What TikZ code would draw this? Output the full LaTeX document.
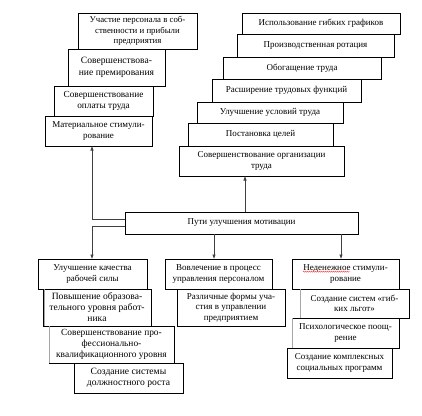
\documentclass[tikz,border=0pt]{standalone}
\usepackage{fontspec}
\setmainfont{Liberation Serif}
\usetikzlibrary{arrows.meta,decorations.pathmorphing}
\begin{document}
\begin{tikzpicture}[x=1pt,y=-1pt,
  box/.style={draw=black, line width=0.6pt, fill=white, inner sep=0pt, outer sep=0pt,
    align=center, font=\fontsize{9}{10.5}\selectfont},
  arr/.style={draw=black!75, line width=0.6pt, -{Latex[length=4.5pt,width=3.5pt]}},
  shade/.style={draw=black!35, line width=1pt},
  spell/.style={draw=red!80, line width=0.4pt, decorate, decoration={snake, amplitude=0.6pt, segment length=2pt}}]
\useasboundingbox (0,0) rectangle (422,415);
% left top column
\node[box, minimum width=119pt, minimum height=36pt, font=\fontsize{8.8}{10.5}\selectfont] (A1) at (137.5,31) {Участие персонала в соб-\\ственности и прибыли\\предприятия};
\node[box, minimum width=97pt, minimum height=37pt, font=\fontsize{9.6}{12}\selectfont] (A2) at (116.5,67.5) {Совершенствова-\\ние премирования};
\node[box, minimum width=99pt, minimum height=30pt, font=\fontsize{9.3}{11.5}\selectfont] (A3) at (103.5,101) {Совершенствование\\оплаты труда};
\node[box, minimum width=107pt, minimum height=30pt] (A4) at (98.5,131) {Материальное стимули-\\рование};
% right top column
\node[box, minimum width=158pt, minimum height=21pt] (R1) at (321,23.5) {Использование гибких графиков};
\node[box, minimum width=157pt, minimum height=23pt] (R2) at (315.5,45.5) {Производственная ротация};
\node[box, minimum width=158pt, minimum height=22pt] (R3) at (302,68) {Обогащение труда};
\node[box, minimum width=149pt, minimum height=23pt] (R4) at (286.5,90.5) {Расширение трудовых функций};
\node[box, minimum width=146pt, minimum height=21pt] (R5) at (270,112.5) {Улучшение условий труда};
\node[box, minimum width=145pt, minimum height=23pt] (R6) at (260.5,134.5) {Постановка целей};
\node[box, minimum width=165pt, minimum height=30pt] (R7) at (261.5,161) {Совершенствование организации\\труда};
% center
\node[box, minimum width=233pt, minimum height=22pt] (P) at (241.5,223) {Пути улучшения мотивации};
% bottom left column
\node[box, minimum width=109pt, minimum height=30pt] (B1) at (92.5,274) {Улучшение качества\\рабочей силы};
\node[box, minimum width=108pt, minimum height=37pt, font=\fontsize{9.6}{11}\selectfont] (B2) at (97,307.5) {Повышение образова-\\тельного уровня работ-\\ника};
\draw[shade] ([xshift=1.1pt]B2.north west) -- ([xshift=1.1pt]B2.south west);
\node[box, minimum width=125pt, minimum height=37pt, font=\fontsize{9.4}{11}\selectfont] (B3) at (111.5,344.5) {Совершенствование про-\\фессионально-\\квалификационного уровня};
\draw[shade] ([xshift=0.8pt]B3.north west) -- ([xshift=0.8pt]B3.south west);
\node[box, minimum width=109pt, minimum height=30pt, font=\fontsize{9.6}{11.5}\selectfont] (B4) at (128.5,378) {Создание системы\\должностного роста};
% bottom middle column
\node[box, minimum width=107pt, minimum height=30pt] (C1) at (218.5,274) {Вовлечение в процесс\\управления персоналом};
\node[box, minimum width=108pt, minimum height=37pt] (C2) at (231,307.5) {Различные формы уча-\\стия в управлении\\предприятием};
% bottom right column
\node[box, minimum width=107pt, minimum height=30pt] (D1) at (345.5,274) {Неденежное стимули-\\рование};
\draw[spell] ([xshift=-42.5pt,yshift=2.3pt]D1.center) -- ([xshift=4.5pt,yshift=2.3pt]D1.center);
\node[box, minimum width=109pt, minimum height=29pt] (D2) at (354.5,303.5) {Создание систем «гиб-\\ких льгот»};
\draw[shade] ([xshift=0.8pt]D2.north west) -- ([xshift=0.8pt]D2.south west);
\node[box, minimum width=107pt, minimum height=30pt] (D3) at (345.5,333) {Психологическое поощ-\\рение};
\draw[shade] ([xshift=0.8pt]D3.north west) -- ([xshift=0.8pt]D3.south west);
\node[box, minimum width=105pt, minimum height=30pt] (D4) at (339.5,363) {Создание комплексных\\социальных программ};
% connectors
\draw[arr] (P.north -| 245,0) -- (R7.south -| 245,0);
\draw[arr] ([yshift=3.5pt]P.west) -| (A4.south -| 92,0);
\draw[arr] ([yshift=-3.5pt]P.west) -| (B1.north -| 92,0);
\draw[arr] (P.south -| 214,0) -- (C1.north -| 214,0);
\draw[arr] (P.south -| 341,0) -- (D1.north -| 341,0);
\end{tikzpicture}
\end{document}
